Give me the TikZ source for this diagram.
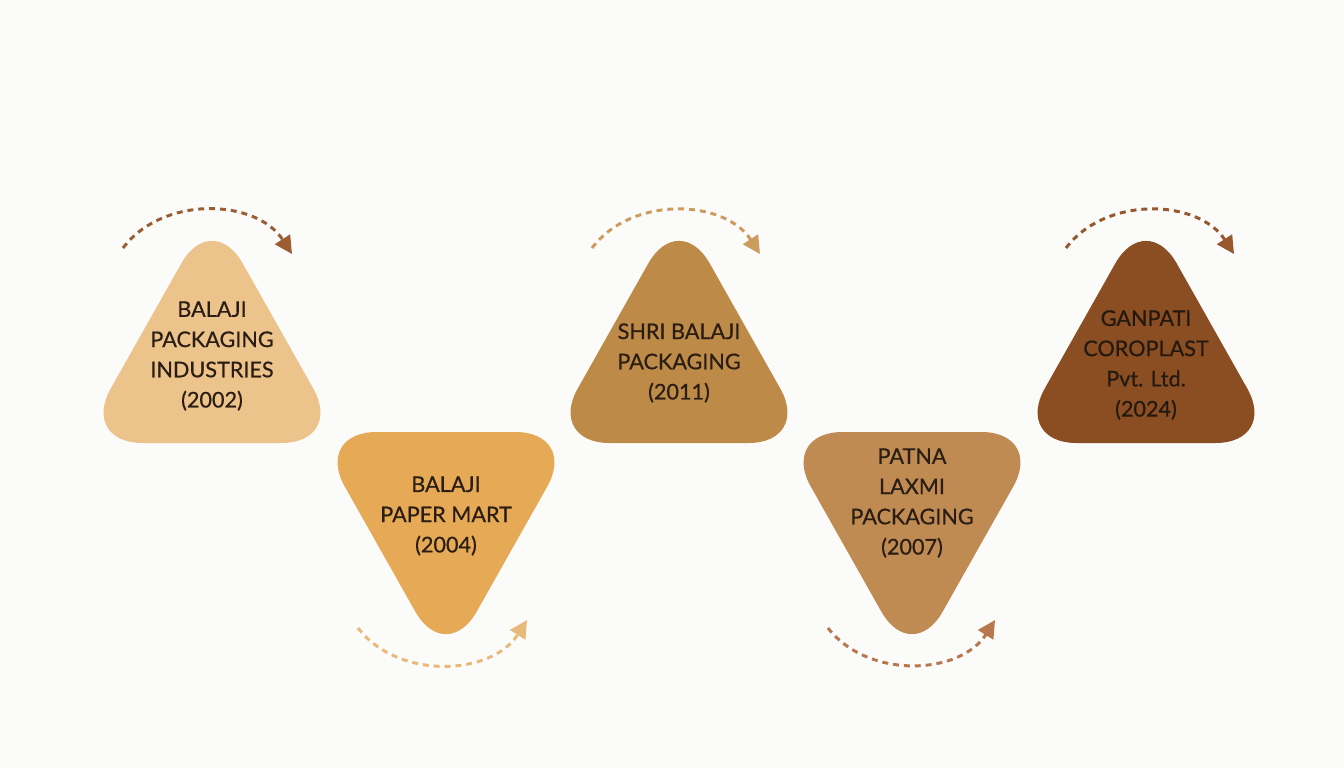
\documentclass[tikz,border=0pt]{standalone}
\usepackage{fontspec}
\setmainfont{Lato}
\newfontfamily\firmfont{Lato}[FakeBold=0.6]
\usetikzlibrary{arrows.meta}

\definecolor{paper}{HTML}{FBFBFA}
\definecolor{inkdark}{HTML}{2A1E14}
\definecolor{sandA}{HTML}{EDC38C}
\definecolor{sandB}{HTML}{E6A955}
\definecolor{sandC}{HTML}{BE8A48}
\definecolor{sandD}{HTML}{C08B53}
\definecolor{sandE}{HTML}{8A4E22}
\definecolor{hopA}{HTML}{9B5E34}
\definecolor{hopB}{HTML}{E8B979}
\definecolor{hopC}{HTML}{CC9C5E}
\definecolor{hopD}{HTML}{B8784E}
\definecolor{hopE}{HTML}{96582C}

\begin{document}
\begin{tikzpicture}[x=0.02cm,y=-0.02cm,
	blob/.style={rounded corners=1.25cm},
	firm/.style={align=center,text=inkdark,font=\firmfont\fontsize{12.3}{17.2}\selectfont},
	hop/.style={dash pattern=on 3.4pt off 2.8pt,line width=1.7pt,
		-{Triangle[length=10pt,width=10pt,sep=0pt]}}]
	\fill[paper] (0,0) rectangle (1344,768);
	\useasboundingbox (0,0) rectangle (1344,768);

	% up, down, up, down, up
	\fill[sandA,blob] (80,443) -- (212,209) -- (344,443) -- cycle;
	\fill[sandB,blob] (314,432) -- (578,432) -- (446,666) -- cycle;
	\fill[sandC,blob] (547,443) -- (679,209) -- (811,443) -- cycle;
	\fill[sandD,blob] (780,432) -- (1044,432) -- (912,666) -- cycle;
	\fill[sandE,blob] (1014,443) -- (1146,209) -- (1278,443) -- cycle;

	\node[firm] (balaji) at (212,356) {BALAJI\\PACKAGING\\INDUSTRIES\\(2002)};
	\node[firm] (papermart) at (446,516) {BALAJI\\PAPER MART\\(2004)};
	\node[firm] (shri) at (679,363) {SHRI BALAJI\\PACKAGING\\(2011)};
	\node[firm] (patna) at (912,503) {PATNA\\LAXMI\\PACKAGING\\(2007)};
	\node[firm,text=inkdark!85!black] (ganpati) at (1146,365) {GANPATI\\COROPLAST\\Pvt. Ltd.\\(2024)};

	% dashed hops
	\coordinate (a1) at (123,248); \coordinate (b1) at (292,254);
	\coordinate (a2) at (358,628); \coordinate (b2) at (527,620);
	\coordinate (a3) at (592,248); \coordinate (b3) at (760,254);
	\coordinate (a4) at (828,628); \coordinate (b4) at (995,620);
	\coordinate (a5) at (1066,248); \coordinate (b5) at (1234,254);
	\draw[hop,hopA] (a1) to[bend left=55] (b1);
	\draw[hop,hopB] (a2) to[bend right=55] (b2);
	\draw[hop,hopC] (a3) to[bend left=55] (b3);
	\draw[hop,hopD] (a4) to[bend right=55] (b4);
	\draw[hop,hopE] (a5) to[bend left=55] (b5);
\end{tikzpicture}
\end{document}
